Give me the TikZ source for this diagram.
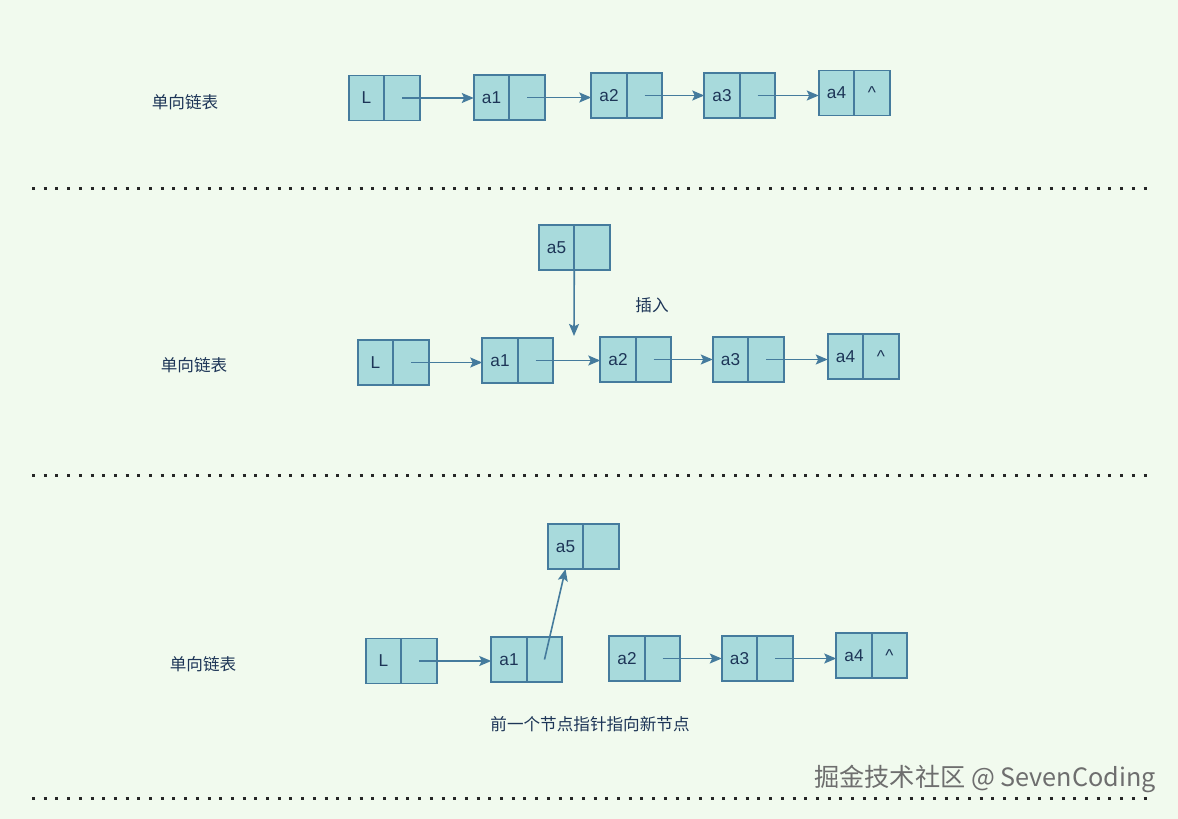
\documentclass[tikz,border=0pt]{standalone}
\usepackage{fontspec}
\setmainfont{Liberation Sans}
\newfontfamily\cjk{Noto Sans CJK SC}
\usepackage{tikz}
\usetikzlibrary{arrows.meta, positioning}
\definecolor{mybg}{HTML}{F1FAEE}
\definecolor{mycell}{HTML}{A8DADC}
\definecolor{myblue}{HTML}{457B9D}
\definecolor{mynavy}{HTML}{1D3557}
\definecolor{mygray}{HTML}{6E6E6E}
\tikzset{
  cell/.style={rectangle, draw=myblue, fill=mycell, line width=0.85pt,
    minimum width=17.75pt, minimum height=22.5pt, inner sep=0pt, outer sep=0pt,
    text=mynavy, font=\fontsize{8.6}{10}\selectfont},
  ptr/.style={cell, right=0pt of #1},
  label/.style={text=mynavy, font=\cjk\fontsize{8.3}{10}\selectfont},
  arrow/.style={-{Stealth[length=6pt, width=5pt, inset=1.2pt]}, line width=0.8pt, color=myblue},
  sep/.style={line width=1.5pt, color=black!85, dash pattern=on 1.5pt off 4.35pt}
}

\begin{document}
\begin{tikzpicture}[x=0.5pt, y=-0.5pt]
  \fill[mybg] (0,0) rectangle (1178,819);
  \useasboundingbox (0,0) rectangle (1178,819);

  % Top row: the list
  \node[label] (toplabel) at (185,102) {单向链表};
  \node[cell] (topL) at (366.5,98) {L};
  \node[ptr=topL] (topLp) {};
  \node[cell] (topa1) at (491.5,97.5) {a1};
  \node[ptr=topa1] (topa1p) {};
  \node[cell] (topa2) at (609,95.5) {a2};
  \node[ptr=topa2] (topa2p) {};
  \node[cell] (topa3) at (722,95.5) {a3};
  \node[ptr=topa3] (topa3p) {};
  \node[cell] (topa4) at (836.5,93) {a4};
  \node[ptr=topa4] (topa4p) {\textasciicircum};
  \draw[arrow] (topLp.center) -- (topLp.center -| topa1.west);
  \draw[arrow] (topa1p.center) -- (topa1p.center -| topa2.west);
  \draw[arrow] (topa2p.center) -- (topa2p.center -| topa3.west);
  \draw[arrow] (topa3p.center) -- (topa3p.center -| topa4.west);

  \coordinate (sepA) at (32,188);
  \coordinate (sepB) at (1150,188);
  \draw[sep] (sepA) -- (sepB);

  % Middle row: a5 comes in
  \node[label] (midlabel) at (194,365) {单向链表};
  \node[label] (insert) at (652,305) {插入};
  \node[cell] (mida5) at (556.5,247.5) {a5};
  \node[ptr=mida5] (mida5p) {};
  \node[cell] (midL) at (375.5,362.5) {L};
  \node[ptr=midL] (midLp) {};
  \node[cell] (mida1) at (500,360.5) {a1};
  \node[ptr=mida1] (mida1p) {};
  \node[cell] (mida2) at (618,359.5) {a2};
  \node[ptr=mida2] (mida2p) {};
  \node[cell] (mida3) at (730.5,359.5) {a3};
  \node[ptr=mida3] (mida3p) {};
  \node[cell] (mida4) at (845.5,356.5) {a4};
  \node[ptr=mida4] (mida4p) {\textasciicircum};
  \coordinate (midgap) at (574,336);
  \draw[arrow] (mida5.south east) -- (midgap);
  \draw[arrow] (midLp.center) -- (midLp.center -| mida1.west);
  \draw[arrow] (mida1p.center) -- (mida1p.center -| mida2.west);
  \draw[arrow] (mida2p.center) -- (mida2p.center -| mida3.west);
  \draw[arrow] (mida3p.center) -- (mida3p.center -| mida4.west);

  \coordinate (sepC) at (32,475);
  \coordinate (sepD) at (1150,475);
  \draw[sep] (sepC) -- (sepD);

  % Bottom row: a1 now points at a5
  \node[label] (botlabel) at (203,664) {单向链表};
  \node[cell] (bota5) at (565.5,546.5) {a5};
  \node[ptr=bota5] (bota5p) {};
  \node[cell] (botL) at (383.5,661) {L};
  \node[ptr=botL] (botLp) {};
  \node[cell] (bota1) at (509,659.5) {a1};
  \node[ptr=bota1] (bota1p) {};
  \node[cell] (bota2) at (627,658.5) {a2};
  \node[ptr=bota2] (bota2p) {};
  \node[cell] (bota3) at (739.5,658.5) {a3};
  \node[ptr=bota3] (bota3p) {};
  \node[cell] (bota4) at (854,655.5) {a4};
  \node[ptr=bota4] (bota4p) {\textasciicircum};
  \node[label] (note) at (590,724) {前一个节点指针指向新节点};
  \draw[arrow] (botLp.center) -- (botLp.center -| bota1.west);
  \draw[arrow] (bota1p.center) -- (bota5.south);
  \draw[arrow] (bota2p.center) -- (bota2p.center -| bota3.west);
  \draw[arrow] (bota3p.center) -- (bota3p.center -| bota4.west);

  \coordinate (sepE) at (32,798);
  \coordinate (sepF) at (1150,798);
  \draw[sep] (sepE) -- (sepF);

  % Watermark
  \node[text=mygray, font=\cjk\fontsize{12.6}{14}\selectfont] (mark) at (985,779) {掘金技术社区 @ SevenCoding};
\end{tikzpicture}
\end{document}
